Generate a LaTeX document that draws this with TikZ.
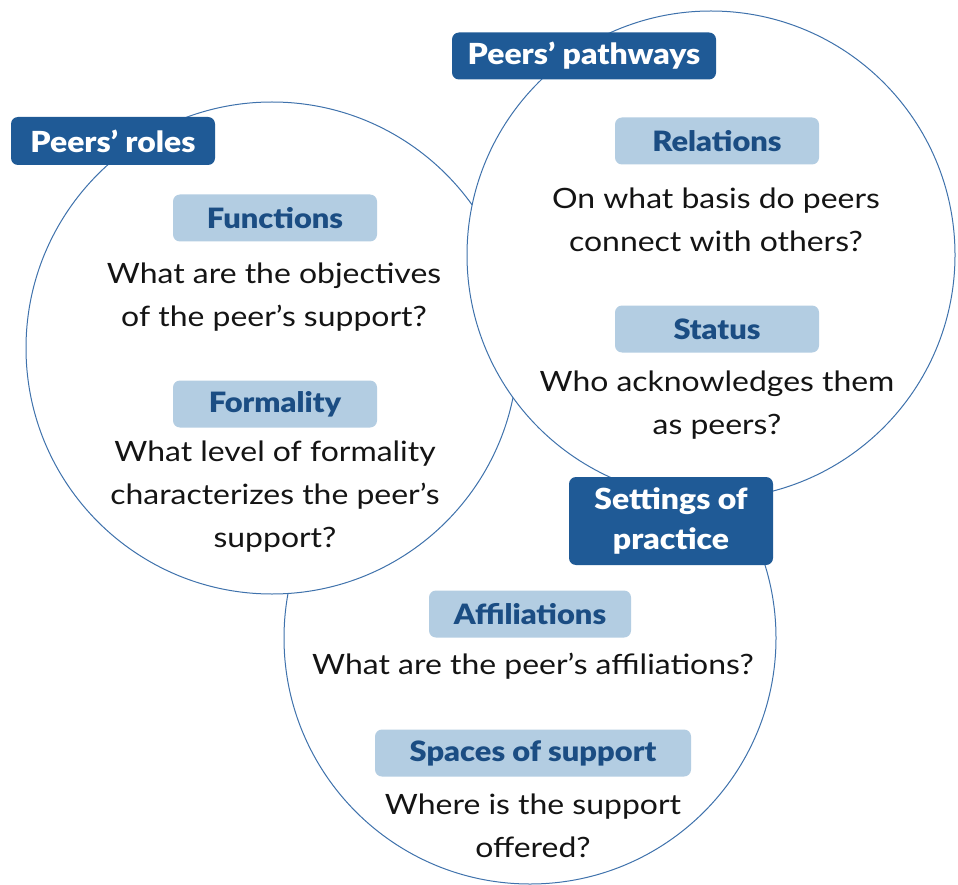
\documentclass[tikz,border=0pt]{standalone}
\usepackage{fontspec}
\setmainfont{Lato}[FakeStretch=1.14, BoldFont={Lato Black}, BoldFeatures={FakeStretch=1.10}]
\definecolor{dkblue}{HTML}{1F5A96}
\definecolor{ltblue}{HTML}{B3CDE2}
\definecolor{hdblue}{HTML}{1B4D83}
\definecolor{ring}{HTML}{3F72AC}
\definecolor{qtext}{HTML}{141414}
\tikzset{
  ringc/.style={draw=ring, line width=1pt, fill=white},
  darkbox/.style={fill=dkblue, rounded corners=7pt, text=white, inner sep=0pt,
    font=\bfseries\fontsize{29}{40}\selectfont, align=center},
  lightbox/.style={fill=ltblue, rounded corners=7pt, text=hdblue, inner sep=0pt,
    font=\bfseries\fontsize{28}{36}\selectfont, minimum height=47pt},
  question/.style={text=qtext, align=center, inner sep=0pt,
    font=\fontsize{28}{43}\selectfont}
}
\begin{document}
\begin{tikzpicture}[x=1pt,y=-1pt]
\useasboundingbox (0,0) rectangle (958,885);
% circles
\node[ringc, circle, minimum size=492pt, inner sep=0pt] (cset) at (530,638) {};
\node[ringc, circle, minimum size=492pt, inner sep=0pt] (croles) at (272,348) {};
\node[ringc, circle, minimum size=488pt, inner sep=0pt] (cpath) at (711,255) {};
% titles
\node[darkbox, minimum width=204pt, minimum height=48pt] (roles) at (113,141) {Peers’ roles};
\node[darkbox, minimum width=264pt, minimum height=47pt] (paths) at (584,56) {Peers’ pathways};
\node[darkbox, minimum width=204pt, minimum height=88pt] (sett) at (671,521) {Settings of\\practice};
% sub headings
\node[lightbox, minimum width=204pt] (func) at (275,218) {Functions};
\node[lightbox, minimum width=204pt] (form) at (275,404) {Formality};
\node[lightbox, minimum width=204pt] (rel) at (717,141) {Relations};
\node[lightbox, minimum width=204pt] (stat) at (717,329) {Status};
\node[lightbox, minimum width=202pt] (aff) at (530,614) {Affiliations};
\node[lightbox, minimum width=316pt] (spa) at (533,753) {Spaces of support};
% questions
\node[question] (qfunc) at (274,297) {What are the objectives\\of the peer’s support?};
\node[question] (qform) at (275,497) {What level of formality\\characterizes the peer’s\\support?};
\node[question] (qrel) at (716,220) {On what basis do peers\\connect with others?};
\node[question] (qstat) at (717,405) {Who acknowledges them\\as peers?};
\node[question] (qaff) at (533,666) {What are the peer’s affiliations?};
\node[question] (qspa) at (533,826) {Where is the support\\offered?};
\end{tikzpicture}
\end{document}
